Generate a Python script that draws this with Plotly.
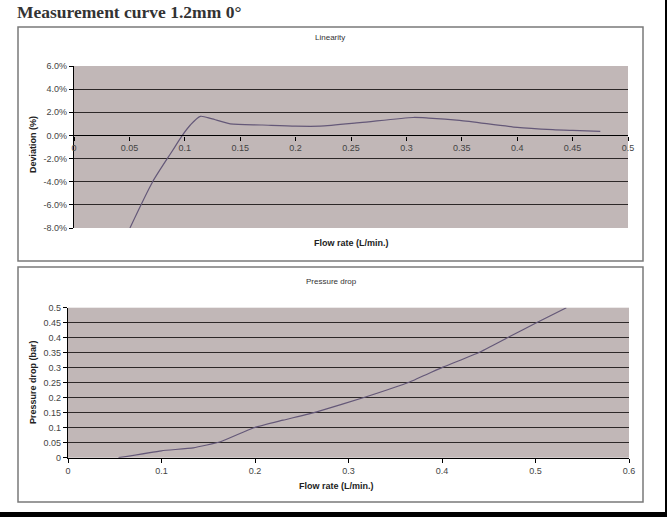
import plotly.graph_objects as go

# ---- data ----
lin_flow = [0.0505, 0.071, 0.089, 0.097, 0.105, 0.114, 0.124, 0.141, 0.170,
            0.200, 0.222, 0.258, 0.306, 0.320, 0.348, 0.400, 0.432, 0.450, 0.475]
lin_dev = [-8.0, -4.0, -1.3, -0.1, 0.9, 1.65, 1.45, 1.0, 0.9,
           0.8, 0.8, 1.1, 1.55, 1.5, 1.3, 0.7, 0.5, 0.43, 0.35]

pd_flow = [0.054, 0.100, 0.134, 0.163, 0.198, 0.230, 0.266, 0.319, 0.366, 0.401,
           0.439, 0.470, 0.501, 0.533]
pd_bar = [0.0, 0.023, 0.033, 0.053, 0.099, 0.125, 0.153, 0.203, 0.253, 0.302,
          0.350, 0.400, 0.450, 0.500]

lin_xticks = [0, 0.05, 0.1, 0.15, 0.2, 0.25, 0.3, 0.35, 0.4, 0.45, 0.5]
lin_xtext = ["0", "0.05", "0.1", "0.15", "0.2", "0.25", "0.3", "0.35", "0.4", "0.45", "0.5"]
lin_yticks = [-8, -6, -4, -2, 0, 2, 4, 6]
lin_ytext = ["-8.0%", "-6.0%", "-4.0%", "-2.0%", "0.0%", "2.0%", "4.0%", "6.0%"]

pd_xticks = [0, 0.1, 0.2, 0.3, 0.4, 0.5, 0.6]
pd_xtext = ["0", "0.1", "0.2", "0.3", "0.4", "0.5", "0.6"]
pd_yticks = [0, 0.05, 0.1, 0.15, 0.2, 0.25, 0.3, 0.35, 0.4, 0.45, 0.5]
pd_ytext = ["0", "0.05", "0.1", "0.15", "0.2", "0.25", "0.3", "0.35", "0.4", "0.45", "0.5"]

# ---- layout helpers ----
W, H = 667, 517
def px(x):
    return x / W
def py(y):
    return 1 - y / H

LINE_COL = "rgb(100,88,120)"
GRID_COL = "rgb(45,40,40)"
BG_COL = "rgb(193,183,183)"
TICK_FONT = dict(family="Liberation Sans, Arial", size=9, color="#444")

top_y_dom = [py(228), py(66)]
top_y_range = [-8, 6]
zero_pos = top_y_dom[0] + (0 - top_y_range[0]) / (top_y_range[1] - top_y_range[0]) * (top_y_dom[1] - top_y_dom[0])

fig = go.Figure()
fig.add_trace(go.Scatter(x=lin_flow, y=lin_dev, mode="lines",
                         line=dict(color=LINE_COL, width=1.2, shape="spline", smoothing=0.7),
                         xaxis="x", yaxis="y", showlegend=False))
fig.add_trace(go.Scatter(x=pd_flow, y=pd_bar, mode="lines",
                         line=dict(color=LINE_COL, width=1.2, shape="spline", smoothing=0.4),
                         xaxis="x2", yaxis="y2", showlegend=False))

axis_common = dict(showline=True, linecolor="black", linewidth=1.2, ticks="outside",
                   ticklen=4, tickcolor="black", tickfont=TICK_FONT, zeroline=False,
                   automargin=False)

fig.update_layout(
    width=W, height=H,
    margin=dict(l=0, r=0, t=0, b=0, pad=0, autoexpand=False),
    showlegend=False,
    paper_bgcolor="white",
    plot_bgcolor=BG_COL,
    xaxis=dict(domain=[px(74), px(628)], range=[0, 0.5], anchor="free", position=zero_pos,
               tickvals=lin_xticks, ticktext=lin_xtext, showgrid=False, **axis_common),
    yaxis=dict(domain=top_y_dom, range=top_y_range, anchor="x",
               tickvals=lin_yticks, ticktext=lin_ytext, showgrid=True,
               gridcolor=GRID_COL, gridwidth=1.3, **axis_common),
    xaxis2=dict(domain=[px(68), px(629)], range=[0, 0.6], anchor="y2",
                tickvals=pd_xticks, ticktext=pd_xtext, showgrid=False, **axis_common),
    yaxis2=dict(domain=[py(457.7), py(307.7)], range=[0, 0.5], anchor="x2",
                tickvals=pd_yticks, ticktext=pd_ytext, showgrid=True,
                gridcolor=GRID_COL, gridwidth=1.3, **axis_common),
    shapes=[
        dict(type="rect", xref="paper", yref="paper", x0=px(18), x1=px(643), y0=py(261), y1=py(27),
             line=dict(color="#7a7a7a", width=1.5), layer="below"),
        dict(type="rect", xref="paper", yref="paper", x0=px(18), x1=px(643), y0=py(502), y1=py(267),
             line=dict(color="#7a7a7a", width=1.5), layer="below"),
        dict(type="rect", xref="paper", yref="paper", x0=px(665), x1=1, y0=0, y1=1,
             fillcolor="black", line=dict(width=0)),
        dict(type="rect", xref="paper", yref="paper", x0=0, x1=1, y0=0, y1=py(512),
             fillcolor="black", line=dict(width=0)),
    ],
    annotations=[
        dict(text="<b>Measurement curve 1.2mm 0°</b>", xref="paper", yref="paper",
             x=px(15), y=py(12), xanchor="left", yanchor="middle", showarrow=False,
             font=dict(family="Liberation Serif, Times New Roman", size=17.5, color="#333")),
        dict(text="Linearity", xref="paper", yref="paper", x=px(330), y=py(38),
             xanchor="center", yanchor="middle", showarrow=False,
             font=dict(family="Liberation Sans, Arial", size=8, color="#333")),
        dict(text="Pressure drop", xref="paper", yref="paper", x=px(331), y=py(281),
             xanchor="center", yanchor="middle", showarrow=False,
             font=dict(family="Liberation Sans, Arial", size=8, color="#333")),
        dict(text="<b>Deviation (%)</b>", xref="paper", yref="paper", x=px(33), y=py(145),
             xanchor="center", yanchor="middle", showarrow=False, textangle=-90,
             font=dict(family="Liberation Sans, Arial", size=9, color="#222")),
        dict(text="<b>Flow rate (L/min.)</b>", xref="paper", yref="paper", x=px(351), y=py(243),
             xanchor="center", yanchor="middle", showarrow=False,
             font=dict(family="Liberation Sans, Arial", size=9, color="#222")),
        dict(text="<b>Pressure drop (bar)</b>", xref="paper", yref="paper", x=px(33), y=py(382),
             xanchor="center", yanchor="middle", showarrow=False, textangle=-90,
             font=dict(family="Liberation Sans, Arial", size=9, color="#222")),
        dict(text="<b>Flow rate (L/min.)</b>", xref="paper", yref="paper", x=px(336), y=py(486),
             xanchor="center", yanchor="middle", showarrow=False,
             font=dict(family="Liberation Sans, Arial", size=9, color="#222")),
    ],
)

post = ("document.body.style.margin='0';document.body.style.overflow='hidden';")

fig.write_html("out.html", config={"displayModeBar": False}, post_script=post)
